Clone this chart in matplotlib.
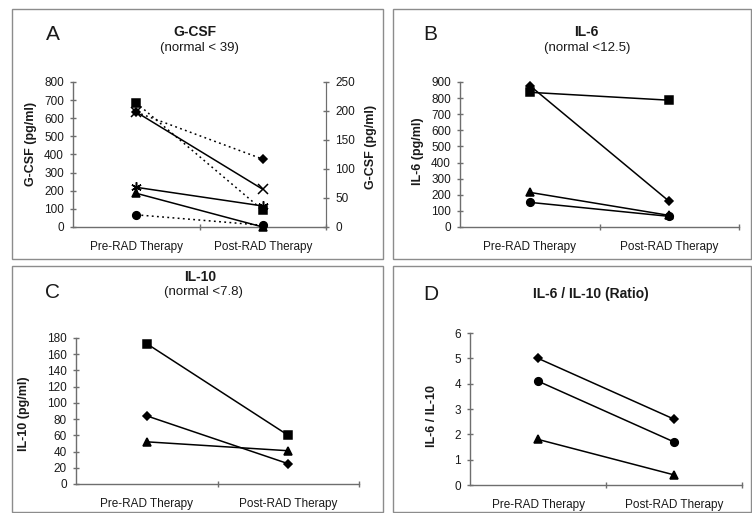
import numpy as np
import matplotlib
matplotlib.use("Agg")
import matplotlib.pyplot as plt
from matplotlib.patches import Rectangle
from matplotlib.ticker import FixedLocator

plt.rcParams['font.family'] = ['Liberation Sans', 'DejaVu Sans']

W, H = 752, 513
categories = ['Pre-RAD Therapy', 'Post-RAD Therapy']

# A: G-CSF, left axis (solid lines)
gcsf_x = [634, 208]
gcsf_star = [219, 116]
gcsf_tri = [186, 0]
# A: G-CSF, right axis (dotted lines)
gcsf_sq = [214, 29]
gcsf_dia = [198, 117]
gcsf_circ = [21, 3]

# B: IL-6
il6_dia = [878, 159]
il6_sq = [836, 787]
il6_tri = [215, 72]
il6_circ = [153, 66]

# C: IL-10
il10_sq = [173, 60]
il10_dia = [84, 25]
il10_tri = [52, 41]

# D: IL-6 / IL-10 ratio
ratio_dia = [5.0, 2.6]
ratio_circ = [4.1, 1.7]
ratio_tri = [1.8, 0.4]

AX = '#6e6e6e'
TXT = '#1a1a1a'
xpos = [0, 1]

fig = plt.figure(figsize=(W / 100, H / 100), dpi=100)


def px_axes(left, top, right, bottom):
    return fig.add_axes([left / W, 1 - bottom / H, (right - left) / W, (bottom - top) / H])


def ftext(x, y, s, **kw):
    fig.text(x / W, 1 - y / H, s, ha='center', va='center', color=TXT, **kw)


def style(ax, ymax, step):
    ax.set_xlim(-0.5, 1.5)
    ax.set_ylim(0, ymax)
    ax.set_yticks(np.arange(0, ymax + step / 2, step))
    for s in ['top', 'right']:
        ax.spines[s].set_visible(False)
    for s in ['left', 'bottom']:
        ax.spines[s].set_color(AX)
        ax.spines[s].set_linewidth(1.0)
    ax.set_xticks(xpos)
    ax.set_xticklabels(categories)
    ax.xaxis.set_minor_locator(FixedLocator([0.5, 1.5]))
    ax.tick_params(axis='x', which='major', length=0, pad=10, labelsize=8.5, labelcolor=TXT)
    ax.tick_params(axis='x', which='minor', length=5, width=1, direction='inout', color=AX)
    ax.tick_params(axis='y', length=5, width=1, direction='inout', color=AX, pad=4,
                   labelsize=8.5, labelcolor=TXT)
    ax.patch.set_alpha(0)


def series(ax, vals, marker, ms=5, ls='-'):
    ax.plot(xpos, vals, color='black', lw=1.1, ls=ls, marker=marker, ms=ms,
            mfc='black', mec='black', mew=1.1, clip_on=False, zorder=3)


# panel frames
for (l, t, r, b) in [(12, 9, 383, 259), (393, 9, 751, 259), (12, 266, 383, 512), (393, 266, 751, 512)]:
    fig.patches.append(Rectangle((l / W, 1 - b / H), (r - l) / W, (b - t) / H,
                                 transform=fig.transFigure, fill=False, ec='#8c8c8c', lw=1.0))

dot = (0, (1.2, 2.2))
star = (6, 2, 0)

# A
axA = px_axes(73, 82, 326, 227)
style(axA, 800, 100)
axA.spines['right'].set_visible(True)
axA.spines['right'].set_color(AX)
axA2 = axA.twinx()
axA2.set_ylim(0, 250)
axA2.set_yticks(np.arange(0, 251, 50))
for s in ['top', 'left', 'bottom']:
    axA2.spines[s].set_visible(False)
axA2.spines['right'].set_color(AX)
axA2.tick_params(axis='y', length=5, width=1, direction='inout', color=AX, pad=4,
                 labelsize=8.5, labelcolor=TXT)
series(axA2, gcsf_sq, 's', 6, dot)
series(axA2, gcsf_dia, 'D', 4.5, dot)
series(axA2, gcsf_circ, 'o', 5.5, dot)
series(axA, gcsf_x, 'x', 6.5)
series(axA, gcsf_star, star, 7.5)
series(axA, gcsf_tri, '^', 6)
axA.set_ylabel('G-CSF (pg/ml)', fontsize=9, fontweight='bold', color=TXT)
axA.yaxis.set_label_coords(-0.142, 0.57)
axA2.set_ylabel('G-CSF (pg/ml)', fontsize=9, fontweight='bold', color=TXT)
axA2.yaxis.set_label_coords(1.155, 0.55)
ftext(53, 35, 'A', fontsize=15)
ftext(195, 32, 'G-CSF', fontsize=10, fontweight='bold')
ftext(199, 48, '(normal < 39)', fontsize=9.5)

# B
axB = px_axes(460, 82, 739, 227)
style(axB, 900, 100)
series(axB, il6_dia, 'D', 4.5)
series(axB, il6_sq, 's', 6)
series(axB, il6_tri, '^', 6)
series(axB, il6_circ, 'o', 5.5)
axB.set_ylabel('IL-6 (pg/ml)', fontsize=9, fontweight='bold', color=TXT)
axB.yaxis.set_label_coords(-0.129, 0.52)
ftext(430, 35, 'B', fontsize=15)
ftext(586, 32, 'IL-6', fontsize=10, fontweight='bold')
ftext(587, 48, '(normal <12.5)', fontsize=9.5)

# C
axC = px_axes(76, 338, 359, 484)
style(axC, 180, 20)
series(axC, il10_sq, 's', 6)
series(axC, il10_dia, 'D', 4.5)
series(axC, il10_tri, '^', 6)
axC.set_ylabel('IL-10 (pg/ml)', fontsize=9, fontweight='bold', color=TXT)
axC.yaxis.set_label_coords(-0.163, 0.48)
ftext(53, 292, 'C', fontsize=15)
ftext(200, 277, 'IL-10', fontsize=10, fontweight='bold')
ftext(203, 292, '(normal <7.8)', fontsize=9.5)

# D
axD = px_axes(470, 333, 742, 485)
style(axD, 6, 1)
series(axD, ratio_dia, 'D', 4.5)
series(axD, ratio_circ, 'o', 5.5)
series(axD, ratio_tri, '^', 6)
axD.set_ylabel('IL-6 / IL-10', fontsize=9, fontweight='bold', color=TXT)
axD.yaxis.set_label_coords(-0.118, 0.457)
ftext(431, 295, 'D', fontsize=15)
ftext(591, 294, 'IL-6 / IL-10 (Ratio)', fontsize=10, fontweight='bold')

fig.savefig('out.png', dpi=100)
